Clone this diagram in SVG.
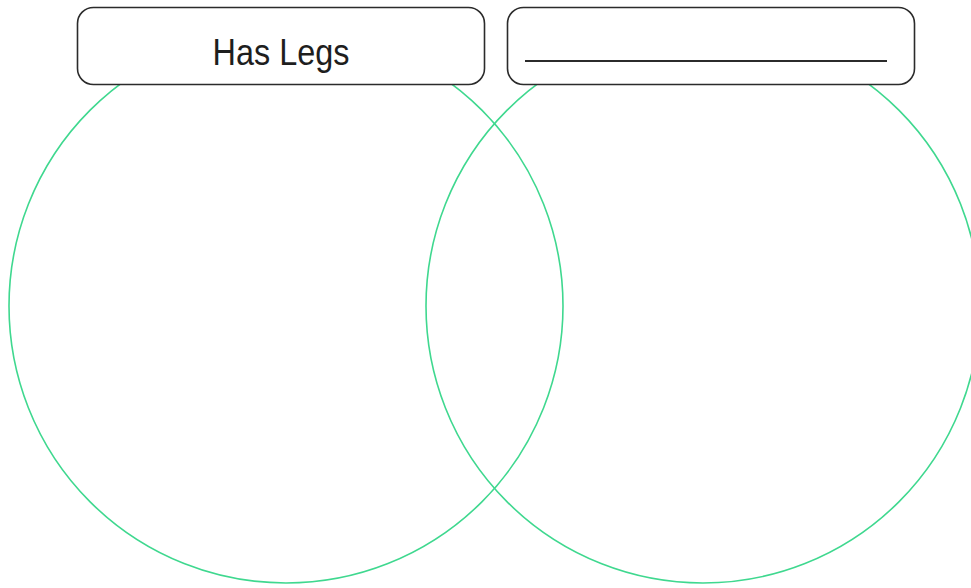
<svg xmlns="http://www.w3.org/2000/svg" width="971" height="588" viewBox="0 0 971 588">
<style>
.ring{fill:none;stroke:#3fd88f;stroke-width:1.6}
.box{fill:#ffffff;stroke:#2b2b2b;stroke-width:1.6}
.lbl{font-family:"Liberation Sans","DejaVu Sans",sans-serif;font-size:36px;fill:#1e1e1e}
</style>
<rect width="971" height="588" fill="#ffffff"/>
<g id="circle-left"><circle class="ring" cx="286" cy="306" r="277"/></g>
<g id="circle-right"><circle class="ring" cx="703" cy="306" r="277"/></g>
<g id="label-left">
<rect class="box" x="77.5" y="7.5" width="407" height="77" rx="16"/>
<text class="lbl" x="281" y="65" text-anchor="middle" textLength="137" lengthAdjust="spacingAndGlyphs">Has Legs</text>
</g>
<g id="label-right">
<rect class="box" x="507.5" y="7.5" width="407" height="77" rx="16"/>
<line x1="525" y1="61" x2="887" y2="61" stroke="#2b2b2b" stroke-width="1.8"/>
</g>
<g id="connectors"></g>
</svg>
